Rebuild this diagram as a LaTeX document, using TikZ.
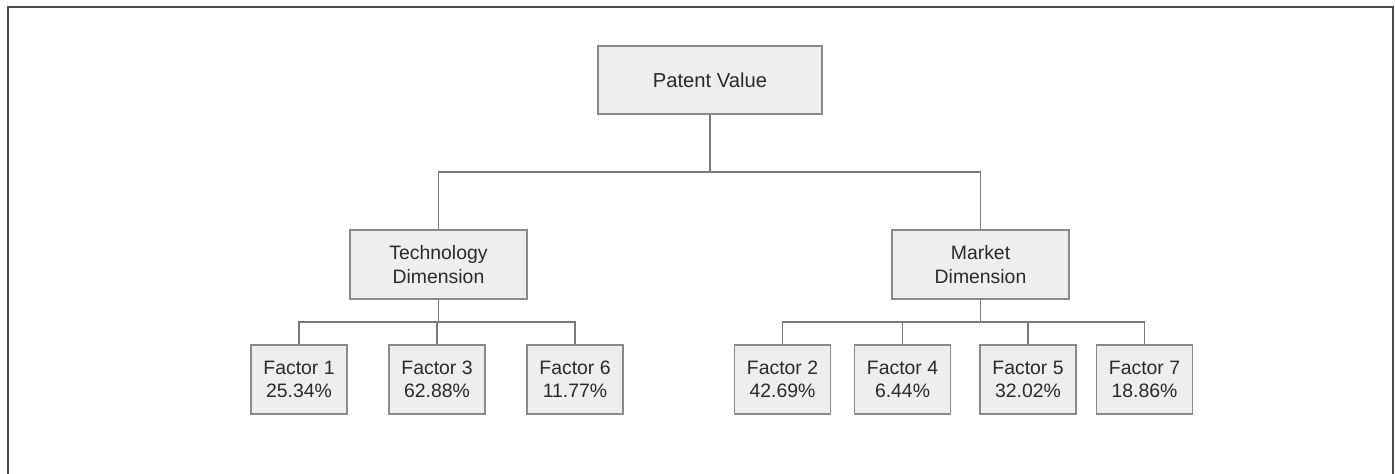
\documentclass[tikz,border=0pt]{standalone}
\usepackage{fontspec}
\setmainfont{Liberation Sans}
\usetikzlibrary{positioning}
\definecolor{boxfill}{HTML}{EEEEEE}
\definecolor{boxline}{HTML}{8A8A8A}
\definecolor{wire}{HTML}{7A7A7A}
\definecolor{ink}{HTML}{2A2A2A}
\tikzset{
  frame/.style={draw=black!70,line width=1pt},
  rootbox/.style={draw=boxline,fill=boxfill,line width=0.8pt,minimum width=112pt,minimum height=34pt,inner sep=0pt,text=ink,font=\fontsize{10.1}{11.7}\selectfont},
  dimbox/.style={draw=boxline,fill=boxfill,line width=0.8pt,minimum width=88.5pt,minimum height=34.5pt,inner sep=0pt,align=center,text=ink,font=\fontsize{9.7}{11.7}\selectfont},
  factorbox/.style={draw=boxline,fill=boxfill,line width=0.8pt,minimum width=48pt,minimum height=34.5pt,inner sep=0pt,align=center,text=ink,font=\fontsize{9.7}{11.7}\selectfont},
  link/.style={draw=wire,line width=0.7pt}
}

\begin{document}
\begin{tikzpicture}[x=0.5pt,y=0.5pt]
    \useasboundingbox (0,0) rectangle (1395,474);
    \draw[frame] (8,0) |- (1393,467) -- (1393,0);
    % top
    \node[rootbox] (pv) at (710,394) {Patent Value};
    % dimensions
    \node[dimbox] (tech) at (438.5,209.5) {Technology\\Dimension};
    \node[dimbox] (mkt) at (980.5,209.5) {Market\\Dimension};
    % factors
    \node[factorbox] (f1) at (299,94.5) {Factor 1\\25.34\%};
    \node[factorbox] (f3) at (437,94.5) {Factor 3\\62.88\%};
    \node[factorbox] (f6) at (575,94.5) {Factor 6\\11.77\%};
    \node[factorbox] (f2) at (782.5,94.5) {Factor 2\\42.69\%};
    \node[factorbox] (f4) at (902.5,94.5) {Factor 4\\6.44\%};
    \node[factorbox] (f5) at (1028,94.5) {Factor 5\\32.02\%};
    \node[factorbox] (f7) at (1144.5,94.5) {Factor 7\\18.86\%};
    \coordinate (bar1) at (0,302);
    \coordinate (bar2) at (0,152);
    \draw[link] (pv.south) -- (pv.south |- bar1) -| (tech.north);
    \draw[link] (pv.south |- bar1) -| (mkt.north);
    \foreach \f in {f1,f3,f6}
      \draw[link] (tech.south) -- (tech.south |- bar2) -| (\f.north);
    \foreach \f in {f2,f4,f5,f7}
      \draw[link] (mkt.south) -- (mkt.south |- bar2) -| (\f.north);
\end{tikzpicture}
\end{document}
